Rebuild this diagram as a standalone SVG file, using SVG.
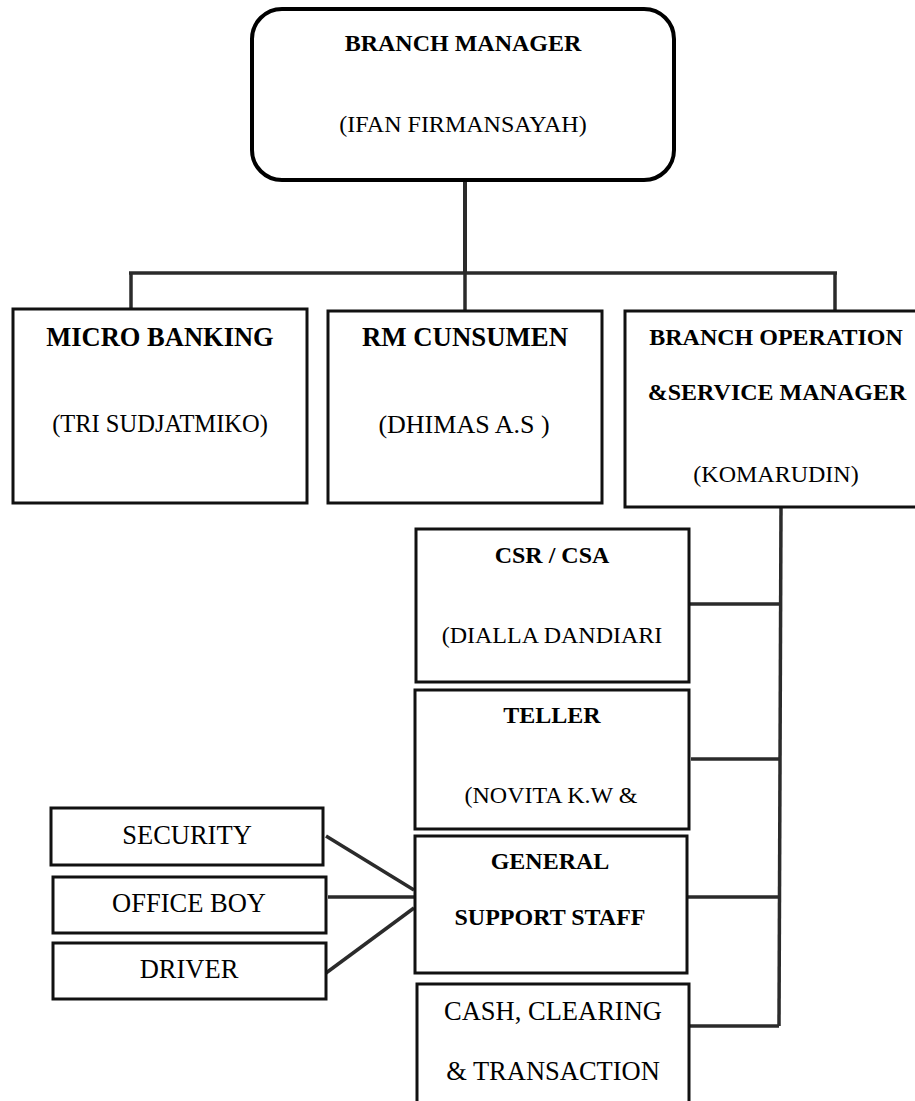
<svg xmlns="http://www.w3.org/2000/svg" width="915" height="1101" viewBox="0 0 915 1101">
<style>
.box{fill:#fff;stroke:#111;stroke-width:3}
.bm{fill:#fff;stroke:#000;stroke-width:4}
.ln{fill:none;stroke:#2b2b2b;stroke-width:3.5}
text{font-family:"Liberation Serif","Times New Roman",serif;fill:#000;text-anchor:middle}
.b{font-weight:bold}
</style>
<rect width="915" height="1101" fill="#fff"/>
<g id="connectors">
<line class="ln" x1="465" y1="180" x2="465" y2="273" style="stroke-width:4"/>
<line class="ln" x1="129" y1="273" x2="837" y2="273"/>
<line class="ln" x1="131" y1="273" x2="131" y2="309"/>
<line class="ln" x1="465" y1="273" x2="465" y2="311"/>
<line class="ln" x1="835" y1="273" x2="835" y2="311"/>
<polyline class="ln" points="781,507 779,1026"/>
<line class="ln" x1="689" y1="604" x2="781" y2="604"/>
<line class="ln" x1="691" y1="759" x2="779" y2="759"/>
<line class="ln" x1="687" y1="897" x2="779" y2="897"/>
<line class="ln" x1="690" y1="1026" x2="779" y2="1026"/>
<line class="ln" x1="326" y1="836" x2="414" y2="890"/>
<line class="ln" x1="328" y1="897" x2="414" y2="897"/>
<line class="ln" x1="326" y1="973" x2="414" y2="908"/>
</g>
<g id="branch-manager">
<rect class="bm" x="252" y="9" width="422" height="171" rx="30"/>
<text class="b" x="463" y="51" font-size="24">BRANCH MANAGER</text>
<text x="463" y="132" font-size="24">(IFAN FIRMANSAYAH)</text>
</g>
<g id="micro-banking">
<rect class="box" x="13" y="309" width="294" height="194"/>
<text class="b" x="160" y="346" font-size="26.5">MICRO BANKING</text>
<text x="160" y="432" font-size="24.5">(TRI SUDJATMIKO)</text>
</g>
<g id="rm-cunsumen">
<rect class="box" x="328" y="311" width="274" height="192"/>
<text class="b" x="465" y="346" font-size="26.8">RM CUNSUMEN</text>
<text x="464" y="433" font-size="26">(DHIMAS A.S )</text>
</g>
<g id="branch-operation">
<rect class="box" x="625" y="311" width="300" height="196"/>
<text class="b" x="776" y="345" font-size="24">BRANCH OPERATION</text>
<text class="b" x="777" y="400" font-size="24">&amp;SERVICE MANAGER</text>
<text x="776" y="482" font-size="24">(KOMARUDIN)</text>
</g>
<g id="csr-csa">
<rect class="box" x="416" y="529" width="273" height="153"/>
<text class="b" x="552" y="563" font-size="24">CSR / CSA</text>
<text x="552" y="643" font-size="24">(DIALLA DANDIARI</text>
</g>
<g id="teller">
<rect class="box" x="415" y="690" width="274" height="139"/>
<text class="b" x="552" y="723" font-size="24">TELLER</text>
<text x="551" y="803" font-size="24">(NOVITA K.W &amp;</text>
</g>
<g id="general-support">
<rect class="box" x="415" y="836" width="272" height="137"/>
<text class="b" x="550" y="869" font-size="24">GENERAL</text>
<text class="b" x="550" y="925" font-size="24">SUPPORT STAFF</text>
</g>
<g id="cash-clearing">
<rect class="box" x="417" y="984" width="272" height="130"/>
<text x="553" y="1020" font-size="26.5">CASH, CLEARING</text>
<text x="553" y="1080" font-size="26.5">&amp; TRANSACTION</text>
</g>
<g id="security">
<rect class="box" x="51" y="808" width="272" height="57"/>
<text x="187" y="844" font-size="26.5">SECURITY</text>
</g>
<g id="office-boy">
<rect class="box" x="53" y="877" width="273" height="56"/>
<text x="189" y="912" font-size="26.5">OFFICE BOY</text>
</g>
<g id="driver">
<rect class="box" x="53" y="943" width="273" height="56"/>
<text x="189" y="978" font-size="26.5">DRIVER</text>
</g>
</svg>
